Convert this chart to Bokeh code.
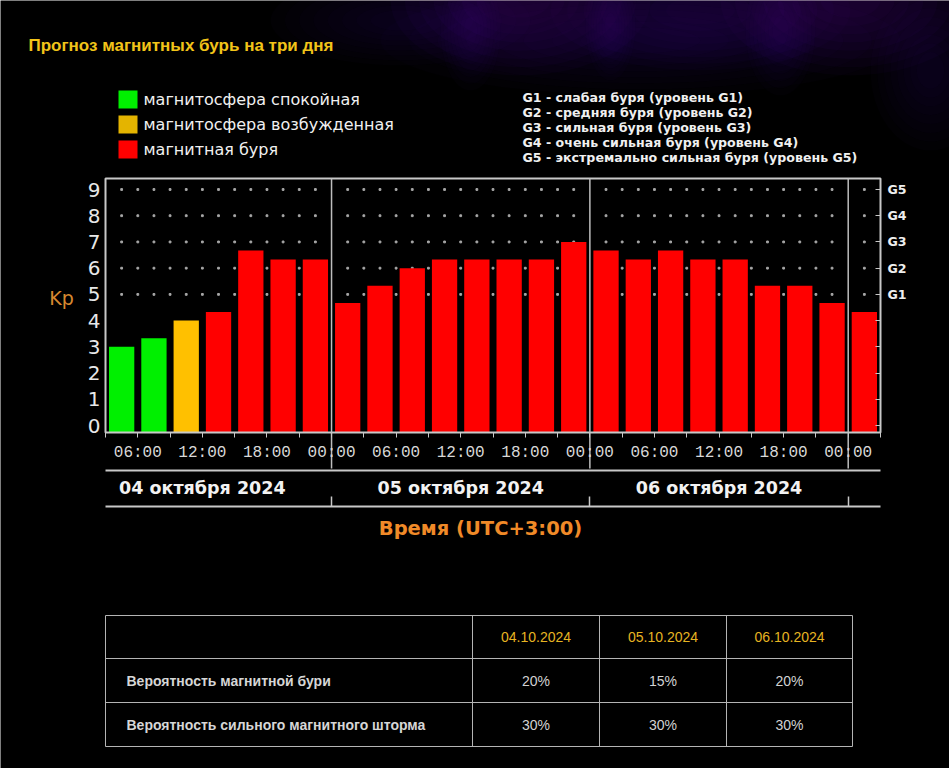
import numpy as np
from bokeh.plotting import figure
from bokeh.models import Range1d, LinearAxis, FixedTicker
from bokeh.core.properties import value
from bokeh.embed import file_html
from bokeh.resources import INLINE

# ---------------- data ----------------
# Kp forecast, 3-hour slots starting 04.10.2024 03:00 (UTC+3)
kp_values = [3.0, 3.33, 4.0, 4.33, 6.67, 6.33, 6.33,
             4.67, 5.33, 6.0, 6.33, 6.33, 6.33, 6.33, 7.0,
             6.67, 6.33, 6.67, 6.33, 6.33, 5.33, 5.33, 4.67,
             4.33]
kp_status = ["quiet", "quiet", "active"] + ["storm"] * 21
slot_start_hours = [3, 6, 9, 12, 15, 18, 21, 24, 27, 30, 33, 36, 39, 42, 45,
                    48, 51, 54, 57, 60, 63, 66, 69, 72]
status_colors = {"quiet": "#00f000", "active": "#ffc000", "storm": "#ff0000"}
legend_colors = ["#00f000", "#e4b400", "#ff0000"]
legend_labels = ["магнитосфера спокойная", "магнитосфера возбужденная", "магнитная буря"]
g_legend = ["G1 - слабая буря (уровень G1)",
            "G2 - средняя буря (уровень G2)",
            "G3 - сильная буря (уровень G3)",
            "G4 - очень сильная буря (уровень G4)",
            "G5 - экстремально сильная буря (уровень G5)"]
kp_ticks = [0, 1, 2, 3, 4, 5, 6, 7, 8, 9]
g_ticks = {5: "G1", 6: "G2", 7: "G3", 8: "G4", 9: "G5"}
time_tick_hours = [6, 12, 18, 24, 30, 36, 42, 48, 54, 60, 66, 72]
time_tick_labels = ["06:00", "12:00", "18:00", "00:00", "06:00", "12:00",
                    "18:00", "00:00", "06:00", "12:00", "18:00", "00:00"]
time_minor_hours = [3, 9, 15, 21, 27, 33, 39, 45, 51, 57, 63, 69, 75]
day_boundaries = [24, 48, 72]
day_label_hours = [12, 36, 60]
day_labels = ["04 октября 2024", "05 октября 2024", "06 октября 2024"]
title_text = "Прогноз магнитных бурь на три дня"
axis_title = "Время (UTC+3:00)"
table_dates = ["04.10.2024", "05.10.2024", "06.10.2024"]
table_rows = ["Вероятность магнитной бури", "Вероятность сильного магнитного шторма"]
storm_prob = ["20%", "15%", "20%"]
strong_storm_prob = ["30%", "30%", "30%"]

# ---------------- layout (canvas pixels) ----------------
W, H = 949, 768
PX_L, PX_R = 0, W
PY_T, PY_B = 0, H
FX0, FX1 = 105, 880          # chart frame left / right
FY_TOP, FY_BOT = 178, 432    # chart frame top / bottom
KP0_PY, KP9_PY = 425, 189    # Kp 0 and Kp 9 positions
H0, H1 = 3, 75
pxh = (FX1 - FX0) / (H1 - H0)
pxk = (KP0_PY - KP9_PY) / 9.0


def hx(px):
    return H0 + (px - FX0) / pxh


def ky(py):
    return (KP0_PY - py) / pxk


YB, YT = ky(FY_BOT), ky(FY_TOP)

p = figure(width=W, height=H,
           x_range=Range1d(hx(PX_L), hx(PX_R)),
           y_range=Range1d(ky(PY_B), ky(PY_T)),
           x_axis_type=None, y_axis_type=None,
           toolbar_location=None, output_backend="svg",
           min_border=0, background_fill_color="#000000",
           border_fill_color="#000000", outline_line_color=None)
p.extra_x_ranges = {"px": Range1d(PX_L, PX_R)}
p.extra_y_ranges = {"px": Range1d(PY_B, PY_T)}
PX = dict(x_range_name="px", y_range_name="px")

# soft purple haze at the top
haze = [(520, 0, 260, 150, 1.0), (700, 10, 300, 120, 0.8), (850, 0, 260, 150, 1.0),
        (640, 40, 520, 110, 0.6), (400, 20, 260, 90, 0.5), (930, 70, 120, 160, 0.5),
        (470, 30, 60, 120, 0.6), (610, 25, 50, 110, 0.5), (780, 30, 70, 130, 0.5)]
for cx, cy, cw, ch, strength in haze:
    for k in range(8):
        f = 1.0 - k * 0.11
        p.ellipse(x=[cx], y=[cy], width=[cw * f], height=[ch * f], fill_color="#6a22b8",
                  fill_alpha=0.04 * strength, line_color=None, **PX)

# title
p.text(x=[28], y=[45], text=[title_text], text_font=value("Liberation Sans"),
       text_font_style="bold", text_font_size="17px", text_color="#f2c419",
       text_baseline="middle", **PX)

# colour legend
leg_y = [99, 124, 149]
p.rect(x=[127.5] * 3, y=leg_y, width=19, height=18, fill_color=legend_colors,
       line_color=None, **PX)
p.text(x=[143] * 3, y=leg_y, text=legend_labels, text_font=value("DejaVu Sans"),
       text_font_size="16px", text_color="#f0f0f0", text_baseline="middle", **PX)

# G legend
p.text(x=[522] * 5, y=[97, 112, 127, 142, 157], text=g_legend,
       text_font=value("DejaVu Sans"), text_font_style="bold", text_font_size="12.6px",
       text_color="#f0f0f0", text_baseline="middle", **PX)

# dotted G-level grid
dot_x, dot_y = [], []
for lvl in g_ticks:
    for h in np.arange(4.5, 75, 1.5):
        if h not in day_boundaries:
            dot_x.append(h)
            dot_y.append(lvl)
p.scatter(x=dot_x, y=dot_y, marker="square", size=1.8, color="#a8a8a8")

# bars
centers = [s + 1.5 for s in slot_start_hours]
colors = [status_colors[s] for s in kp_status]
p.vbar(x=centers, top=kp_values, bottom=YB, width=2.35, fill_color=colors,
       line_color=None)

# frame and day separators
p.quad(left=[H0], right=[H1], bottom=[YB], top=[YT], fill_color=None,
       line_color="#c8c8c8", line_width=2)
p.segment(x0=day_boundaries, y0=[ky(468)] * 3, x1=day_boundaries, y1=[YT] * 3,
          line_color="#bdbdbd", line_width=1.5)

# Kp label
p.text(x=[61], y=[297], text=["Kp"], text_font=value("DejaVu Sans"),
       text_font_size="19px", text_color="#d8892f", text_align="center",
       text_baseline="middle", **PX)

# left Kp axis
ax_l = LinearAxis(fixed_location=H0, ticker=FixedTicker(ticks=kp_ticks),
                  axis_line_color=None, major_tick_in=0, major_tick_out=0,
                  minor_tick_line_color=None, major_label_standoff=5,
                  major_label_text_font="DejaVu Sans", major_label_text_font_size="20px",
                  major_label_text_color="#e8e8e8")
p.add_layout(ax_l, "left")

# right G axis
ax_r = LinearAxis(fixed_location=H1, ticker=FixedTicker(ticks=kp_ticks),
                  axis_line_color=None, major_tick_in=5, major_tick_out=0,
                  major_tick_line_color="#c8c8c8", minor_tick_line_color=None,
                  major_label_overrides={k: g_ticks.get(k, "") for k in kp_ticks},
                  major_label_standoff=7, major_label_text_font="DejaVu Sans",
                  major_label_text_font_style="bold", major_label_text_font_size="12.6px",
                  major_label_text_color="#eeeeee")
p.add_layout(ax_r, "right")

# time axis
ax_t = LinearAxis(fixed_location=YB, bounds=(H0, H1),
                  ticker=FixedTicker(ticks=time_tick_hours, minor_ticks=time_minor_hours),
                  axis_line_color=None, major_tick_in=0, major_tick_out=5,
                  minor_tick_in=0, minor_tick_out=5,
                  major_tick_line_color="#c8c8c8", minor_tick_line_color="#c8c8c8",
                  major_label_overrides=dict(zip(time_tick_hours, time_tick_labels)),
                  major_label_standoff=6, major_label_text_font="Liberation Mono",
                  major_label_text_font_size="16px", major_label_text_color="#d8d8d8")
p.add_layout(ax_t, "below")

# date axis
ax_d = LinearAxis(fixed_location=ky(470), bounds=(H0, H1),
                  ticker=FixedTicker(ticks=day_label_hours),
                  axis_line_color="#c8c8c8", axis_line_width=2,
                  major_tick_in=0, major_tick_out=0, minor_tick_line_color=None,
                  major_label_overrides=dict(zip(day_label_hours, day_labels)),
                  major_label_standoff=7, major_label_text_font="DejaVu Sans",
                  major_label_text_font_style="bold", major_label_text_font_size="17.5px",
                  major_label_text_color="#f2f2f2")
p.add_layout(ax_d, "below")

# bottom separator axis
ax_b = LinearAxis(fixed_location=ky(506), bounds=(H0, H1),
                  ticker=FixedTicker(ticks=day_boundaries),
                  axis_line_color="#c8c8c8", axis_line_width=2,
                  major_tick_in=10, major_tick_out=0, major_tick_line_color="#c8c8c8",
                  major_tick_line_width=1.5, minor_tick_line_color=None,
                  major_label_text_color=None)
p.add_layout(ax_b, "below")

p.text(x=[480], y=[528], text=[axis_title], text_font=value("DejaVu Sans"),
       text_font_style="bold", text_font_size="19.5px", text_color="#f08a28",
       text_align="center", text_baseline="middle", **PX)

# probability table
tx = [105, 472, 599, 726, 852]
ty = [615, 658, 702, 746]
p.segment(x0=[tx[0]] * 4, x1=[tx[-1]] * 4, y0=ty, y1=ty, line_color="#b4b4b4",
          line_width=1, **PX)
p.segment(x0=tx, x1=tx, y0=[ty[0]] * 5, y1=[ty[-1]] * 5, line_color="#b4b4b4",
          line_width=1, **PX)
col_c = [(tx[i] + tx[i + 1]) / 2 for i in range(1, 4)]
row_c = [(ty[i] + ty[i + 1]) / 2 for i in range(3)]
p.text(x=col_c, y=[row_c[0]] * 3, text=table_dates, text_font=value("Liberation Sans"),
       text_font_size="14px", text_color="#e6b422", text_align="center",
       text_baseline="middle", **PX)
p.text(x=[126, 126], y=row_c[1:], text=table_rows, text_font=value("Liberation Sans"),
       text_font_style="bold", text_font_size="14px", text_color="#d6d6d6",
       text_baseline="middle", **PX)
p.text(x=col_c, y=[row_c[1]] * 3, text=storm_prob, text_font=value("Liberation Sans"),
       text_font_size="14px", text_color="#d2d2d2", text_align="center",
       text_baseline="middle", **PX)
p.text(x=col_c, y=[row_c[2]] * 3, text=strong_storm_prob,
       text_font=value("Liberation Sans"), text_font_size="14px", text_color="#d2d2d2",
       text_align="center", text_baseline="middle", **PX)

open("out.html", "w").write(file_html(p, INLINE))
